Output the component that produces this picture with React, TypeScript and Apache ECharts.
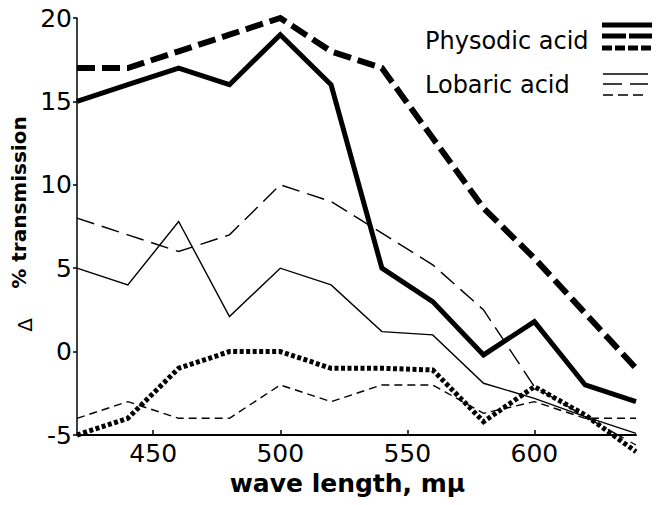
import React, { useEffect, useRef } from "react";
import * as echarts from "echarts";

const wavelengths = [420, 440, 460, 480, 500, 520, 540, 560, 580, 600, 620, 640];
const physodicSolid = [15, 16, 17, 16, 19, 16, 5, 3, -0.2, 1.8, -2, -3];
const physodicDashed = [17, 17, 18, 19, 20, 18, 17, 12.8, 8.6, 5.6, 2.3, -1];
const physodicDotted = [-5, -4, -1, 0, 0, -1, -1, -1.1, -4.2, -2.1, -3.8, -6];
const lobaricSolid = [5, 4, 7.8, 2.1, 5, 4, 1.2, 1, -1.9, -2.8, -3.9, -4.9];
const lobaricDashed = [8, 7, 6, 7, 10, 9, 7.1, 5.2, 2.5, -2.1, -3.9, -5.6];
const lobaricDotted = [-4, -3, -4, -4, -2, -3, -2, -2, -3.7, -3, -4, -4];
const xTicks = [450, 500, 550, 600];
const legendNames = ["Physodic acid", "Lobaric acid"];

const FONT = "DejaVu Sans";

function pairs(values: number[]) {
  return wavelengths.map((w, i) => [w, values[i]]);
}

export default function App() {
  const ref = useRef<HTMLDivElement>(null);
  useEffect(() => {
    if (!ref.current) return;
    const chart = echarts.init(ref.current, null, { renderer: "svg" });
    const mk = (name: string, data: number[], width: number, dash: any) => ({
      name,
      type: "line",
      data: pairs(data),
      symbol: "none",
      clip: false,
      lineStyle: { color: "#000", width, type: dash, cap: "butt", join: "miter" },
    });
    chart.setOption({
      animation: false,
      backgroundColor: "#fff",
      grid: { left: 77, right: 26, top: 18, bottom: 70 },
      xAxis: {
        type: "value",
        min: 420,
        max: 640,
        name: "wave length, mμ",
        nameLocation: "middle",
        nameGap: 33,
        nameTextStyle: {
          fontFamily: FONT,
          fontWeight: "bold",
          fontSize: 25,
          color: "#000",
          padding: [0, 18, 0, 0],
        },
        axisLine: { onZero: false, lineStyle: { color: "#000", width: 2 } },
        axisTick: {
          show: true,
          inside: true,
          length: 5,
          customValues: xTicks,
          lineStyle: { color: "#000", width: 1.5 },
        },
        axisLabel: {
          customValues: xTicks,
          fontFamily: FONT,
          fontSize: 25,
          color: "#000",
          margin: 6,
        },
        splitLine: { show: false },
      },
      yAxis: {
        type: "value",
        min: -5,
        max: 20,
        interval: 5,
        name: "% transmission",
        nameLocation: "middle",
        nameRotate: 90,
        nameGap: 40,
        nameTextStyle: {
          fontFamily: FONT,
          fontWeight: "bold",
          fontSize: 20,
          color: "#000",
          padding: [0, 0, 0, 48],
        },
        axisLine: { show: true, onZero: false, lineStyle: { color: "#000", width: 1.5 } },
        axisTick: { show: true, length: 4, lineStyle: { color: "#000", width: 1.5 } },
        axisLabel: { fontFamily: FONT, fontSize: 25, color: "#000", margin: 5 },
        splitLine: { show: false },
      },
      series: [
        mk(legendNames[0] + " 1", physodicSolid, 5, "solid"),
        mk(legendNames[0] + " 2", physodicDashed, 6, [18, 7]),
        mk(legendNames[0] + " 3", physodicDotted, 5, [4, 2.5]),
        mk(legendNames[1] + " 1", lobaricSolid, 1.4, "solid"),
        mk(legendNames[1] + " 2", lobaricDashed, 1.4, [18, 8]),
        mk(legendNames[1] + " 3", lobaricDotted, 1.4, [8, 5]),
      ],
      graphic: [
        {
          type: "text",
          x: 25,
          y: 325,
          rotation: Math.PI / 2,
          style: { text: "Δ", font: `20px "${FONT}"`, fill: "#000", align: "center", verticalAlign: "middle" },
        },
        {
          type: "text",
          x: 425,
          y: 41,
          style: { text: legendNames[0], font: `24px "${FONT}"`, fill: "#000", align: "left", verticalAlign: "middle" },
        },
        {
          type: "text",
          x: 425,
          y: 85,
          style: { text: legendNames[1], font: `24px "${FONT}"`, fill: "#000", align: "left", verticalAlign: "middle" },
        },
        { type: "line", shape: { x1: 602, y1: 25, x2: 652, y2: 25 }, style: { stroke: "#000", lineWidth: 5 } },
        { type: "line", shape: { x1: 602, y1: 36, x2: 652, y2: 36 }, style: { stroke: "#000", lineWidth: 5, lineDash: [24, 3] } },
        { type: "line", shape: { x1: 602, y1: 48, x2: 652, y2: 48 }, style: { stroke: "#000", lineWidth: 5, lineDash: [10, 3] } },
        { type: "line", shape: { x1: 603, y1: 74, x2: 648, y2: 74 }, style: { stroke: "#000", lineWidth: 1.4 } },
        { type: "line", shape: { x1: 603, y1: 84, x2: 648, y2: 84 }, style: { stroke: "#000", lineWidth: 1.4, lineDash: [19, 8] } },
        { type: "line", shape: { x1: 603, y1: 95, x2: 648, y2: 95 }, style: { stroke: "#000", lineWidth: 1.4, lineDash: [10, 5] } },
      ],
    });
    return () => chart.dispose();
  }, []);
  return <div ref={ref} style={{ width: 662, height: 505, position: "absolute", left: 0, top: 0 }} />;
}
